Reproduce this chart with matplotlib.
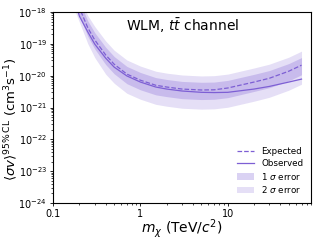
import matplotlib
matplotlib.use("Agg")
import matplotlib.pyplot as plt
from matplotlib import ticker

# dark matter mass (TeV/c^2)
mass = [0.18, 0.2, 0.25, 0.3, 0.4, 0.5, 0.7, 1, 1.5, 2, 3, 5, 7, 10, 20, 30, 50, 70]

# 95% CL upper limits on <sigma v> (cm^3 s^-1)
expected = [2.82e-18, 1.35e-18, 3.16e-19, 1.32e-19, 4.47e-20, 2.29e-20, 1.12e-20,
            7.2e-21, 5.0e-21, 4.4e-21, 3.8e-21, 3.55e-21, 3.6e-21, 4.1e-21,
            6.3e-21, 8.3e-21, 1.38e-20, 2.14e-20]
observed = [2.0e-18, 7.4e-19, 2.34e-19, 9.8e-20, 3.55e-20, 1.86e-20, 9.8e-21,
            6.3e-21, 4.4e-21, 3.8e-21, 3.3e-21, 3.0e-21, 2.95e-21, 3.0e-21,
            3.8e-21, 4.6e-21, 6.3e-21, 7.8e-21]
sig1_up = [4.5e-18, 2.14e-18, 5.2e-19, 2.24e-19, 7.8e-20, 4.0e-20, 1.95e-20,
           1.26e-20, 8.7e-21, 7.6e-21, 6.6e-21, 6.2e-21, 6.3e-21, 7.1e-21,
           1.1e-20, 1.45e-20, 2.4e-20, 3.7e-20]
sig1_dn = [1.58e-18, 7.6e-19, 1.7e-19, 6.9e-20, 2.24e-20, 1.15e-20, 5.6e-21,
           3.6e-21, 2.5e-21, 2.2e-21, 1.9e-21, 1.78e-21, 1.82e-21, 2.04e-21,
           3.2e-21, 4.2e-21, 6.9e-21, 1.07e-20]
sig2_up = [6.3e-18, 3.0e-18, 7.6e-19, 3.5e-19, 1.23e-19, 6.3e-20, 3.1e-20,
           2.0e-20, 1.38e-20, 1.2e-20, 1.05e-20, 9.8e-21, 1.0e-20, 1.12e-20,
           1.74e-20, 2.3e-20, 3.8e-20, 5.9e-20]
sig2_dn = [1.0e-18, 4.8e-19, 1.0e-19, 3.7e-20, 1.12e-20, 5.8e-21, 2.8e-21,
           1.82e-21, 1.26e-21, 1.1e-21, 9.5e-22, 8.9e-22, 9.1e-22, 1.02e-21,
           1.58e-21, 2.1e-21, 3.5e-21, 5.4e-21]

color = "#7d5fd4"

fig = plt.figure(figsize=(3.2, 2.4), dpi=100)
ax = fig.add_axes([0.166, 0.154, 0.806, 0.796])

ax.fill_between(mass, sig2_dn, sig2_up, color=color, alpha=0.2, lw=0, label=r"2 $\sigma$ error")
ax.fill_between(mass, sig1_dn, sig1_up, color=color, alpha=0.28, lw=0, label=r"1 $\sigma$ error")
ax.plot(mass, expected, "--", color=color, lw=0.9, label="Expected")
ax.plot(mass, observed, "-", color=color, lw=0.9, label="Observed")

ax.set_xscale("log")
ax.set_yscale("log")
ax.set_xlim(0.1, 90)
ax.set_ylim(1e-24, 1e-18)
ax.xaxis.set_major_formatter(ticker.FuncFormatter(lambda v, _: "%g" % v))
ax.yaxis.set_major_locator(ticker.LogLocator(base=10, numticks=10))
ax.yaxis.set_minor_locator(ticker.LogLocator(base=10, subs=range(2, 10), numticks=20))
ax.yaxis.set_minor_formatter(ticker.NullFormatter())
ax.tick_params(which="major", labelsize=7, length=2.5, width=0.6, pad=2)
ax.tick_params(which="minor", length=1.5, width=0.5)
for s in ax.spines.values():
    s.set_linewidth(0.8)

ax.set_xlabel(r"$m_\chi$ (TeV/$c^2$)", fontsize=10)
ax.xaxis.set_label_coords(0.5, -0.075)
ax.set_ylabel(r"$\langle\sigma v\rangle^{95\%\,\mathrm{CL}}$ (cm$^3$s$^{-1}$)", fontsize=9.5)
ax.yaxis.set_label_coords(-0.13, 0.44)
ax.text(0.5, 0.93, r"WLM, $t\bar{t}$ channel", transform=ax.transAxes,
        ha="center", va="center", fontsize=10)

h, l = ax.get_legend_handles_labels()
order = [2, 3, 1, 0]
ax.legend([h[i] for i in order], [l[i] for i in order], loc="lower right",
          fontsize=6.3, frameon=False, handlelength=2.0, labelspacing=0.3,
          borderaxespad=0.5)

fig.savefig("out.png", dpi=100)
